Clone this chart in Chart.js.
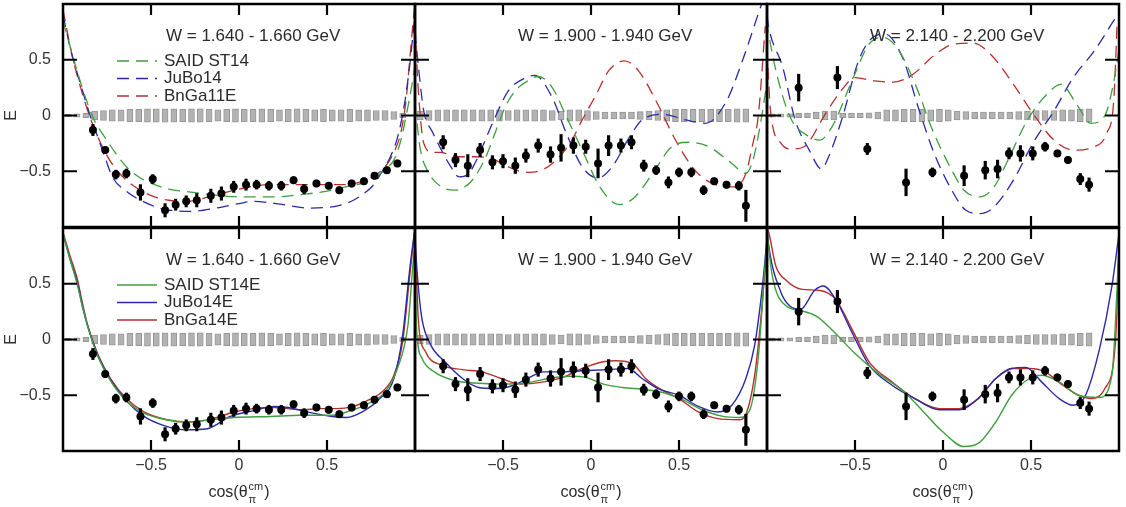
<!DOCTYPE html>
<html>
<head>
<meta charset="utf-8">
<script src="https://cdn.jsdelivr.net/npm/chart.js@4.4.0/dist/chart.umd.min.js"></script>
<style>
    body { margin: 0; background: #fff; width: 1126px; height: 507px; position: relative; overflow: hidden; }
    canvas { position: absolute; }
</style>
</head>
<body>
<canvas id="p0" width="421" height="283" style="left:0px;top:0px"></canvas>
<canvas id="p1" width="421" height="283" style="left:352px;top:0px"></canvas>
<canvas id="p2" width="421" height="283" style="left:704px;top:0px"></canvas>
<canvas id="p3" width="421" height="283" style="left:0px;top:224px"></canvas>
<canvas id="p4" width="421" height="283" style="left:352px;top:224px"></canvas>
<canvas id="p5" width="421" height="283" style="left:704px;top:224px"></canvas>
<script>
const xTickValues = [-0.5, 0, 0.5]
const yTickValues = [0.5, 0, -0.5]
const binTitles = ["W = 1.640 - 1.660 GeV", "W = 1.900 - 1.940 GeV", "W = 2.140 - 2.200 GeV"]

// systematic error boxes around E = 0 (bin centres, half heights per W bin)
const sysCos = [-0.97, -0.92, -0.87, -0.82, -0.77, -0.72, -0.67, -0.62, -0.57, -0.52, -0.47, -0.42, -0.37, -0.32, -0.27, -0.22, -0.17, -0.12, -0.07, -0.02, 0.03, 0.08, 0.13, 0.18, 0.23, 0.28, 0.33, 0.38, 0.43, 0.48, 0.53, 0.58, 0.63, 0.68, 0.73, 0.78, 0.83, 0.88, 0.93]
const w1Sys = [0.012, 0.015, 0.02, 0.04, 0.045, 0.05, 0.05, 0.055, 0.055, 0.06, 0.06, 0.06, 0.06, 0.055, 0.06, 0.06, 0.055, 0.05, 0.055, 0.06, 0.055, 0.055, 0.06, 0.055, 0.05, 0.055, 0.06, 0.055, 0.05, 0.055, 0.05, 0.05, 0.055, 0.05, 0.05, 0.045, 0.045, 0.035, 0.02]
const w2Sys = [0.04, 0.045, 0.05, 0.05, 0.05, 0.05, 0.05, 0.05, 0.05, 0.05, 0.045, 0.05, 0.05, 0.05, 0.05, 0.045, 0.04, 0.05, 0.05, 0.045, 0.035, 0.03, 0.03, 0.03, 0.03, 0.035, 0.04, 0.045, 0.05, 0.055, 0.055, 0.055, 0.055, 0.055, 0.055, 0.055, 0.06, 0.06]
const w3Sys = [0.015, 0.015, 0.015, 0.02, 0.02, 0.03, 0.04, 0.04, 0.02, 0.02, 0.02, 0.025, 0.03, 0.05, 0.05, 0.055, 0.055, 0.055, 0.05, 0.055, 0.05, 0.04, 0.035, 0.03, 0.03, 0.03, 0.03, 0.03, 0.035, 0.04, 0.045, 0.045, 0.045, 0.05, 0.05, 0.055, 0.06]

// measured E
const w1Cos = [-0.83, -0.76, -0.70, -0.64, -0.56, -0.49, -0.42, -0.36, -0.30, -0.24, -0.16, -0.10, -0.03, 0.04, 0.10, 0.17, 0.24, 0.31, 0.37, 0.44, 0.51, 0.57, 0.64, 0.71, 0.77, 0.84, 0.90]
const w1E = [-0.13, -0.31, -0.53, -0.52, -0.69, -0.57, -0.85, -0.80, -0.77, -0.76, -0.72, -0.70, -0.64, -0.62, -0.62, -0.63, -0.63, -0.58, -0.66, -0.61, -0.63, -0.67, -0.61, -0.59, -0.54, -0.49, -0.43]
const w1Err = [0.05, 0.03, 0.04, 0.04, 0.07, 0.04, 0.06, 0.05, 0.05, 0.06, 0.06, 0.06, 0.05, 0.05, 0.04, 0.04, 0.04, 0.03, 0.04, 0.03, 0.03, 0.03, 0.03, 0.03, 0.03, 0.03, 0.03]

const w2Cos = [-0.84, -0.77, -0.70, -0.63, -0.56, -0.50, -0.43, -0.37, -0.30, -0.23, -0.17, -0.10, -0.03, 0.04, 0.10, 0.17, 0.23, 0.30, 0.37, 0.44, 0.50, 0.57, 0.64, 0.70, 0.77, 0.84, 0.88]
const w2E = [-0.24, -0.40, -0.45, -0.31, -0.42, -0.41, -0.45, -0.36, -0.27, -0.35, -0.29, -0.27, -0.28, -0.43, -0.27, -0.27, -0.24, -0.45, -0.49, -0.60, -0.51, -0.51, -0.67, -0.59, -0.62, -0.63, -0.81]
const w2Err = [0.06, 0.06, 0.1, 0.06, 0.06, 0.06, 0.07, 0.06, 0.06, 0.07, 0.12, 0.07, 0.06, 0.13, 0.09, 0.06, 0.06, 0.05, 0.04, 0.05, 0.04, 0.04, 0.04, 0.03, 0.03, 0.04, 0.14]

const w3Cos = [-0.82, -0.60, -0.43, -0.21, -0.06, 0.12, 0.24, 0.31, 0.375, 0.44, 0.51, 0.58, 0.65, 0.71, 0.78, 0.83]
const w3E = [0.25, 0.34, -0.30, -0.60, -0.51, -0.54, -0.49, -0.48, -0.34, -0.34, -0.34, -0.28, -0.34, -0.40, -0.57, -0.62]
const w3Err = [0.12, 0.1, 0.05, 0.12, 0.04, 0.09, 0.08, 0.08, 0.05, 0.07, 0.06, 0.04, 0.03, 0.03, 0.05, 0.06]

// older solutions (dashed, top row)
const said14W1 = [[-1.0, 0.85], [-0.96, 0.62], [-0.92, 0.4], [-0.87, 0.15], [-0.82, -0.05], [-0.76, -0.2], [-0.7, -0.34], [-0.64, -0.46], [-0.56, -0.56], [-0.48, -0.62], [-0.4, -0.66], [-0.26, -0.69], [-0.1, -0.72], [0.05, -0.73], [0.2, -0.73], [0.35, -0.71], [0.53, -0.67], [0.63, -0.63], [0.72, -0.6], [0.78, -0.55], [0.84, -0.47], [0.88, -0.4], [0.92, -0.22], [0.95, 0.0], [0.98, 0.25], [1.0, 0.45]]
const jubo14W1 = [[-1.0, 0.9], [-0.95, 0.55], [-0.9, 0.28], [-0.85, 0.02], [-0.81, -0.16], [-0.76, -0.38], [-0.72, -0.55], [-0.64, -0.68], [-0.56, -0.76], [-0.43, -0.84], [-0.28, -0.86], [-0.13, -0.83], [0.0, -0.79], [0.08, -0.77], [0.21, -0.79], [0.4, -0.83], [0.56, -0.81], [0.65, -0.76], [0.7, -0.71], [0.76, -0.63], [0.81, -0.51], [0.86, -0.37], [0.9, -0.2], [0.94, 0.1], [0.97, 0.45], [0.99, 0.75], [1.0, 0.9]]
const bnga11W1 = [[-1.0, 0.95], [-0.95, 0.55], [-0.9, 0.25], [-0.85, 0.0], [-0.8, -0.2], [-0.75, -0.36], [-0.7, -0.48], [-0.64, -0.58], [-0.56, -0.67], [-0.48, -0.73], [-0.4, -0.76], [-0.3, -0.77], [-0.15, -0.72], [0.0, -0.66], [0.1, -0.63], [0.2, -0.62], [0.4, -0.62], [0.6, -0.62], [0.7, -0.59], [0.77, -0.54], [0.83, -0.46], [0.88, -0.33], [0.92, -0.15], [0.95, 0.15], [0.97, 0.5], [0.99, 0.85], [1.0, 1.0]]

const said14W2 = [[-1.0, 0.1], [-0.97, -0.3], [-0.92, -0.52], [-0.85, -0.64], [-0.77, -0.67], [-0.7, -0.62], [-0.66, -0.55], [-0.6, -0.38], [-0.56, -0.22], [-0.5, 0.03], [-0.47, 0.13], [-0.42, 0.24], [-0.37, 0.3], [-0.3, 0.35], [-0.22, 0.25], [-0.14, -0.01], [-0.05, -0.31], [0.05, -0.64], [0.16, -0.8], [0.25, -0.73], [0.35, -0.52], [0.46, -0.28], [0.56, -0.24], [0.67, -0.28], [0.8, -0.43], [0.88, -0.52], [0.92, -0.4], [0.96, -0.1], [1.0, 0.3]]
const jubo14W2 = [[-1.0, 0.75], [-0.98, 0.43], [-0.95, 0.04], [-0.9, -0.15], [-0.86, -0.28], [-0.8, -0.45], [-0.75, -0.55], [-0.7, -0.53], [-0.66, -0.43], [-0.56, -0.07], [-0.47, 0.22], [-0.37, 0.34], [-0.32, 0.36], [-0.22, 0.16], [-0.14, -0.16], [-0.05, -0.46], [0.04, -0.56], [0.12, -0.46], [0.22, -0.19], [0.29, -0.04], [0.41, 0.01], [0.54, -0.04], [0.65, -0.07], [0.77, 0.13], [0.86, 0.49], [0.95, 0.91], [0.98, 1.05]]
const bnga11W2 = [[-1.0, 0.8], [-0.98, 0.2], [-0.95, -0.25], [-0.9, -0.33], [-0.86, -0.33], [-0.75, -0.37], [-0.66, -0.37], [-0.56, -0.39], [-0.47, -0.46], [-0.37, -0.51], [-0.3, -0.5], [-0.22, -0.43], [-0.12, -0.25], [-0.05, -0.04], [0.03, 0.19], [0.1, 0.4], [0.19, 0.49], [0.27, 0.4], [0.37, 0.13], [0.48, -0.22], [0.59, -0.49], [0.69, -0.61], [0.82, -0.64], [0.88, -0.52], [0.92, -0.25], [0.95, -0.01], [0.99, 0.8]]

const said14W3 = [[-1.0, 0.85], [-0.99, 0.73], [-0.93, 0.28], [-0.86, -0.04], [-0.76, -0.19], [-0.7, -0.22], [-0.63, -0.1], [-0.51, 0.34], [-0.42, 0.64], [-0.34, 0.7], [-0.25, 0.58], [-0.15, 0.25], [-0.06, -0.13], [0.04, -0.46], [0.12, -0.67], [0.21, -0.73], [0.29, -0.64], [0.36, -0.43], [0.48, -0.04], [0.59, 0.19], [0.67, 0.28], [0.76, 0.1], [0.84, -0.07], [0.92, 0.0], [0.97, 0.3], [1.0, 0.6]]
const jubo14W3 = [[-1.0, 0.9], [-0.99, 0.79], [-0.91, 0.43], [-0.84, -0.04], [-0.76, -0.31], [-0.69, -0.48], [-0.65, -0.37], [-0.57, -0.01], [-0.48, 0.49], [-0.4, 0.7], [-0.33, 0.73], [-0.23, 0.52], [-0.14, 0.07], [-0.05, -0.34], [0.05, -0.67], [0.13, -0.85], [0.21, -0.88], [0.29, -0.82], [0.4, -0.58], [0.51, -0.25], [0.63, 0.04], [0.74, 0.34], [0.86, 0.58], [0.97, 0.85], [1.0, 0.92]]
const bnga11W3 = [[-1.0, 0.6], [-0.98, 0.04], [-0.92, -0.25], [-0.86, -0.3], [-0.79, -0.28], [-0.67, 0.01], [-0.58, 0.22], [-0.5, 0.34], [-0.39, 0.31], [-0.28, 0.3], [-0.17, 0.37], [-0.05, 0.54], [0.06, 0.64], [0.17, 0.65], [0.27, 0.55], [0.4, 0.28], [0.51, 0.02], [0.63, -0.22], [0.74, -0.31], [0.86, -0.28], [0.93, -0.16], [0.97, 0.13], [0.99, 0.85]]

// new fits including E (solid, bottom row)
const said14eW1 = [[-1.0, 0.95], [-0.96, 0.72], [-0.92, 0.5], [-0.89, 0.3], [-0.86, 0.12], [-0.8, -0.16], [-0.73, -0.37], [-0.64, -0.55], [-0.54, -0.66], [-0.41, -0.72], [-0.3, -0.74], [-0.15, -0.72], [-0.03, -0.7], [0.18, -0.69], [0.35, -0.68], [0.53, -0.68], [0.63, -0.64], [0.74, -0.57], [0.83, -0.47], [0.9, -0.26], [0.96, 0.13], [0.99, 0.7], [1.0, 0.85]]
const jubo14eW1 = [[-1.0, 0.95], [-0.96, 0.72], [-0.92, 0.52], [-0.89, 0.3], [-0.86, 0.12], [-0.8, -0.15], [-0.73, -0.36], [-0.64, -0.55], [-0.54, -0.69], [-0.43, -0.77], [-0.3, -0.81], [-0.18, -0.8], [-0.05, -0.69], [0.08, -0.64], [0.2, -0.6], [0.28, -0.61], [0.39, -0.65], [0.53, -0.69], [0.61, -0.7], [0.7, -0.65], [0.8, -0.53], [0.88, -0.35], [0.93, 0.04], [0.97, 0.63], [1.0, 1.0]]
const bnga14eW1 = [[-1.0, 0.96], [-0.96, 0.75], [-0.92, 0.55], [-0.89, 0.33], [-0.86, 0.13], [-0.8, -0.14], [-0.73, -0.35], [-0.64, -0.53], [-0.54, -0.65], [-0.41, -0.72], [-0.28, -0.74], [-0.15, -0.71], [-0.03, -0.65], [0.08, -0.62], [0.2, -0.61], [0.35, -0.63], [0.46, -0.62], [0.55, -0.62], [0.65, -0.6], [0.74, -0.54], [0.82, -0.46], [0.88, -0.32], [0.93, -0.02], [0.97, 0.57], [1.0, 1.0]]

const said14eW2 = [[-1.0, 0.6], [-0.99, 0.07], [-0.96, -0.17], [-0.89, -0.29], [-0.77, -0.37], [-0.66, -0.39], [-0.51, -0.4], [-0.37, -0.39], [-0.24, -0.35], [-0.12, -0.33], [-0.03, -0.34], [0.07, -0.4], [0.18, -0.43], [0.31, -0.45], [0.42, -0.48], [0.52, -0.54], [0.63, -0.63], [0.75, -0.69], [0.84, -0.7], [0.9, -0.64], [0.95, -0.17], [0.99, 0.68], [1.0, 0.85]]
const jubo14eW2 = [[-1.0, 0.87], [-0.98, 0.45], [-0.96, 0.18], [-0.91, -0.05], [-0.83, -0.2], [-0.73, -0.35], [-0.64, -0.43], [-0.54, -0.44], [-0.44, -0.41], [-0.35, -0.34], [-0.27, -0.29], [-0.18, -0.29], [-0.05, -0.28], [0.1, -0.27], [0.21, -0.26], [0.29, -0.35], [0.38, -0.44], [0.5, -0.5], [0.61, -0.6], [0.72, -0.65], [0.8, -0.59], [0.88, -0.35], [0.93, -0.05], [0.97, 0.42], [1.0, 0.9]]
const bnga14eW2 = [[-1.0, 1.0], [-0.99, 0.5], [-0.98, 0.15], [-0.94, -0.11], [-0.85, -0.23], [-0.73, -0.27], [-0.62, -0.29], [-0.51, -0.35], [-0.4, -0.4], [-0.27, -0.38], [-0.16, -0.34], [-0.05, -0.26], [0.07, -0.2], [0.14, -0.19], [0.24, -0.22], [0.31, -0.35], [0.4, -0.45], [0.5, -0.53], [0.61, -0.65], [0.72, -0.71], [0.84, -0.72], [0.88, -0.67], [0.93, -0.32], [0.97, 0.27], [1.0, 0.87]]

const said14eW3 = [[-1.0, 0.96], [-0.97, 0.57], [-0.89, 0.3], [-0.81, 0.26], [-0.72, 0.21], [-0.62, 0.07], [-0.51, -0.11], [-0.38, -0.29], [-0.22, -0.47], [-0.11, -0.65], [0.0, -0.83], [0.12, -0.96], [0.21, -0.92], [0.3, -0.74], [0.39, -0.5], [0.49, -0.35], [0.56, -0.32], [0.66, -0.38], [0.77, -0.5], [0.89, -0.52], [0.96, -0.32], [1.0, 0.83]]
const jubo14eW3 = [[-1.0, 1.0], [-0.99, 0.84], [-0.92, 0.42], [-0.87, 0.3], [-0.81, 0.27], [-0.73, 0.44], [-0.68, 0.48], [-0.61, 0.36], [-0.51, 0.04], [-0.42, -0.23], [-0.29, -0.41], [-0.16, -0.53], [-0.02, -0.63], [0.09, -0.63], [0.2, -0.53], [0.3, -0.35], [0.39, -0.26], [0.47, -0.25], [0.56, -0.38], [0.66, -0.53], [0.74, -0.59], [0.81, -0.5], [0.89, -0.08], [0.96, 0.48], [1.0, 0.95]]
const bnga14eW3 = [[-1.0, 1.0], [-0.99, 0.96], [-0.95, 0.66], [-0.89, 0.53], [-0.8, 0.45], [-0.7, 0.44], [-0.61, 0.36], [-0.51, 0.07], [-0.42, -0.2], [-0.29, -0.38], [-0.16, -0.53], [-0.02, -0.62], [0.09, -0.62], [0.2, -0.53], [0.3, -0.35], [0.39, -0.26], [0.49, -0.26], [0.58, -0.29], [0.68, -0.41], [0.77, -0.5], [0.85, -0.53], [0.92, -0.44], [0.98, -0.02], [1.0, 0.83]]

const FONT = "'Liberation Sans', Arial, sans-serif"
const GREEN = "#3f9e3f", BLUE = "#2a2aa8", RED = "#b8302c"

// frame + inward ticks on all four sides
const panelFrame = {
    id: "panelFrame",
    afterDatasetsDraw(chart) {
        const {ctx, chartArea: {left, top, right, bottom}, scales: {x, y}} = chart
        ctx.save()
        ctx.strokeStyle = "#000"
        ctx.lineWidth = 2.5
        ctx.strokeRect(left, top, right - left, bottom - top)
        ctx.lineWidth = 2.2
        ctx.beginPath()
        xTickValues.forEach(v => {
            const px = x.getPixelForValue(v)
            ctx.moveTo(px, top); ctx.lineTo(px, top + 11)
            ctx.moveTo(px, bottom); ctx.lineTo(px, bottom - 11)
        })
        yTickValues.forEach(v => {
            const py = y.getPixelForValue(v)
            ctx.moveTo(left, py); ctx.lineTo(left + 14, py)
            ctx.moveTo(right, py); ctx.lineTo(right - 14, py)
        })
        ctx.stroke()
        ctx.restore()
    }
}

// bin label, legend and x-axis title
const panelText = {
    id: "panelText",
    afterDraw(chart, args, o) {
        const {ctx, chartArea: {left, top, right, bottom}} = chart
        ctx.save()
        ctx.fillStyle = "#2b2b2b"
        ctx.textBaseline = "middle"
        ctx.font = "17px " + FONT
        ctx.fillText(o.title, left + 103, top + 32)
        if (o.legend) {
            const lines = chart.data.datasets.filter(d => d.type === "line")
            lines.forEach((d, i) => {
                const ly = top + 57 + i * 17.5
                ctx.strokeStyle = d.borderColor
                ctx.lineWidth = 1.4
                ctx.setLineDash(d.borderDash || [])
                ctx.beginPath()
                ctx.moveTo(left + 54, ly)
                ctx.lineTo(left + 94, ly)
                ctx.stroke()
                ctx.setLineDash([])
                ctx.fillText(d.label, left + 101, ly)
            })
        }
        if (o.xTitle) {
            const base = bottom + 46
            ctx.textBaseline = "alphabetic"
            ctx.font = "16px " + FONT
            const wa = ctx.measureText("cos(θ").width
            ctx.font = "11px " + FONT
            const ws = Math.max(ctx.measureText("cm").width, ctx.measureText("π").width)
            ctx.font = "16px " + FONT
            const wb = ctx.measureText(")").width
            const x0 = (left + right) / 2 - (wa + ws + wb + 2) / 2
            ctx.fillText("cos(θ", x0, base)
            ctx.fillText(")", x0 + wa + ws + 2, base)
            ctx.font = "11px " + FONT
            ctx.fillText("cm", x0 + wa + 1, base - 7)
            ctx.fillText("π", x0 + wa + 1, base + 6)
        }
        ctx.restore()
    }
}

function fmt(v) {
    if (v === 0) return "0"
    return (v < 0 ? "\u2212" : "") + Math.abs(v)
}

// fixed axis box sizes so every panel gets the same plot area
function fixBox(s, w, h) {
    if (w !== null) s.width = w
    if (h !== null) s.height = h
    s.paddingTop = 0
    s.paddingBottom = 0
    s.paddingLeft = 0
    s.paddingRight = 0
}

function curve(label, pts, color, dashed) {
    return {
        type: "line",
        label: label,
        data: pts.map(p => ({x: p[0], y: p[1]})),
        borderColor: color,
        borderWidth: dashed ? 1.3 : 1.4,
        borderDash: dashed ? [12, 7] : [],
        pointRadius: 0,
        cubicInterpolationMode: "monotone",
        fill: false,
        order: 2
    }
}

function panel(id, col, row, cos, e, err, sys, curves) {
    const dashed = row === 0
    const datasets = [
        {
            type: "scatter",
            data: cos.map((c, i) => ({x: c, y: e[i]})),
            backgroundColor: "#000",
            borderWidth: 0,
            pointRadius: 4,
            order: 0
        },
        {
            type: "bar",
            data: cos.map((c, i) => ({x: c, y: [e[i] - err[i], e[i] + err[i]]})),
            backgroundColor: "#000",
            barThickness: 2.5,
            grouped: false,
            order: 1
        },
        curve(curves[0][0], curves[0][1], GREEN, dashed),
        curve(curves[1][0], curves[1][1], BLUE, dashed),
        curve(curves[2][0], curves[2][1], RED, dashed),
        {
            type: "bar",
            data: sys.map((h, i) => ({x: sysCos[i], y: [-h, h]})),
            backgroundColor: "#b3b3b3",
            borderColor: "#969696",
            borderWidth: 1,
            borderSkipped: false,
            barThickness: 6,
            grouped: false,
            order: 4
        }
    ]
    new Chart(document.getElementById(id), {
        type: "scatter",
        data: {datasets: datasets},
        options: {
            responsive: false,
            animation: false,
            events: [],
            layout: {padding: {left: 0, top: 3, right: 6, bottom: 0}},
            scales: {
                x: {
                    type: "linear", min: -1, max: 1, offset: false,
                    afterFit: s => fixBox(s, null, 56),
                    afterBuildTicks: s => { s.ticks = xTickValues.map(v => ({value: v})) },
                    grid: {display: false, drawTicks: false},
                    border: {display: false},
                    ticks: {display: row === 1, padding: 5, autoSkip: false, maxRotation: 0, color: "#333",
                            font: {size: 16, family: FONT}, callback: v => fmt(v)}
                },
                y: {
                    type: "linear", min: -1, max: 1,
                    afterFit: s => fixBox(s, 63, null),
                    afterBuildTicks: s => { s.ticks = yTickValues.map(v => ({value: v})) },
                    grid: {display: false, drawTicks: false},
                    border: {display: false},
                    ticks: {display: col === 0, padding: 12, color: "#333",
                            font: {size: 16, family: FONT}, callback: v => fmt(v)},
                    title: {display: col === 0, text: "E", color: "#333", padding: {top: 2, bottom: 0},
                            font: {size: 16, family: FONT}}
                }
            },
            plugins: {
                legend: {display: false},
                tooltip: {enabled: false},
                panelText: {title: binTitles[col], legend: col === 0, xTitle: row === 1}
            }
        },
        plugins: [panelFrame, panelText]
    })
}

panel("p0", 0, 0, w1Cos, w1E, w1Err, w1Sys, [["SAID ST14", said14W1], ["JuBo14", jubo14W1], ["BnGa11E", bnga11W1]])
panel("p1", 1, 0, w2Cos, w2E, w2Err, w2Sys, [["SAID ST14", said14W2], ["JuBo14", jubo14W2], ["BnGa11E", bnga11W2]])
panel("p2", 2, 0, w3Cos, w3E, w3Err, w3Sys, [["SAID ST14", said14W3], ["JuBo14", jubo14W3], ["BnGa11E", bnga11W3]])
panel("p3", 0, 1, w1Cos, w1E, w1Err, w1Sys, [["SAID ST14E", said14eW1], ["JuBo14E", jubo14eW1], ["BnGa14E", bnga14eW1]])
panel("p4", 1, 1, w2Cos, w2E, w2Err, w2Sys, [["SAID ST14E", said14eW2], ["JuBo14E", jubo14eW2], ["BnGa14E", bnga14eW2]])
panel("p5", 2, 1, w3Cos, w3E, w3Err, w3Sys, [["SAID ST14E", said14eW3], ["JuBo14E", jubo14eW3], ["BnGa14E", bnga14eW3]])
</script>
</body>
</html>
